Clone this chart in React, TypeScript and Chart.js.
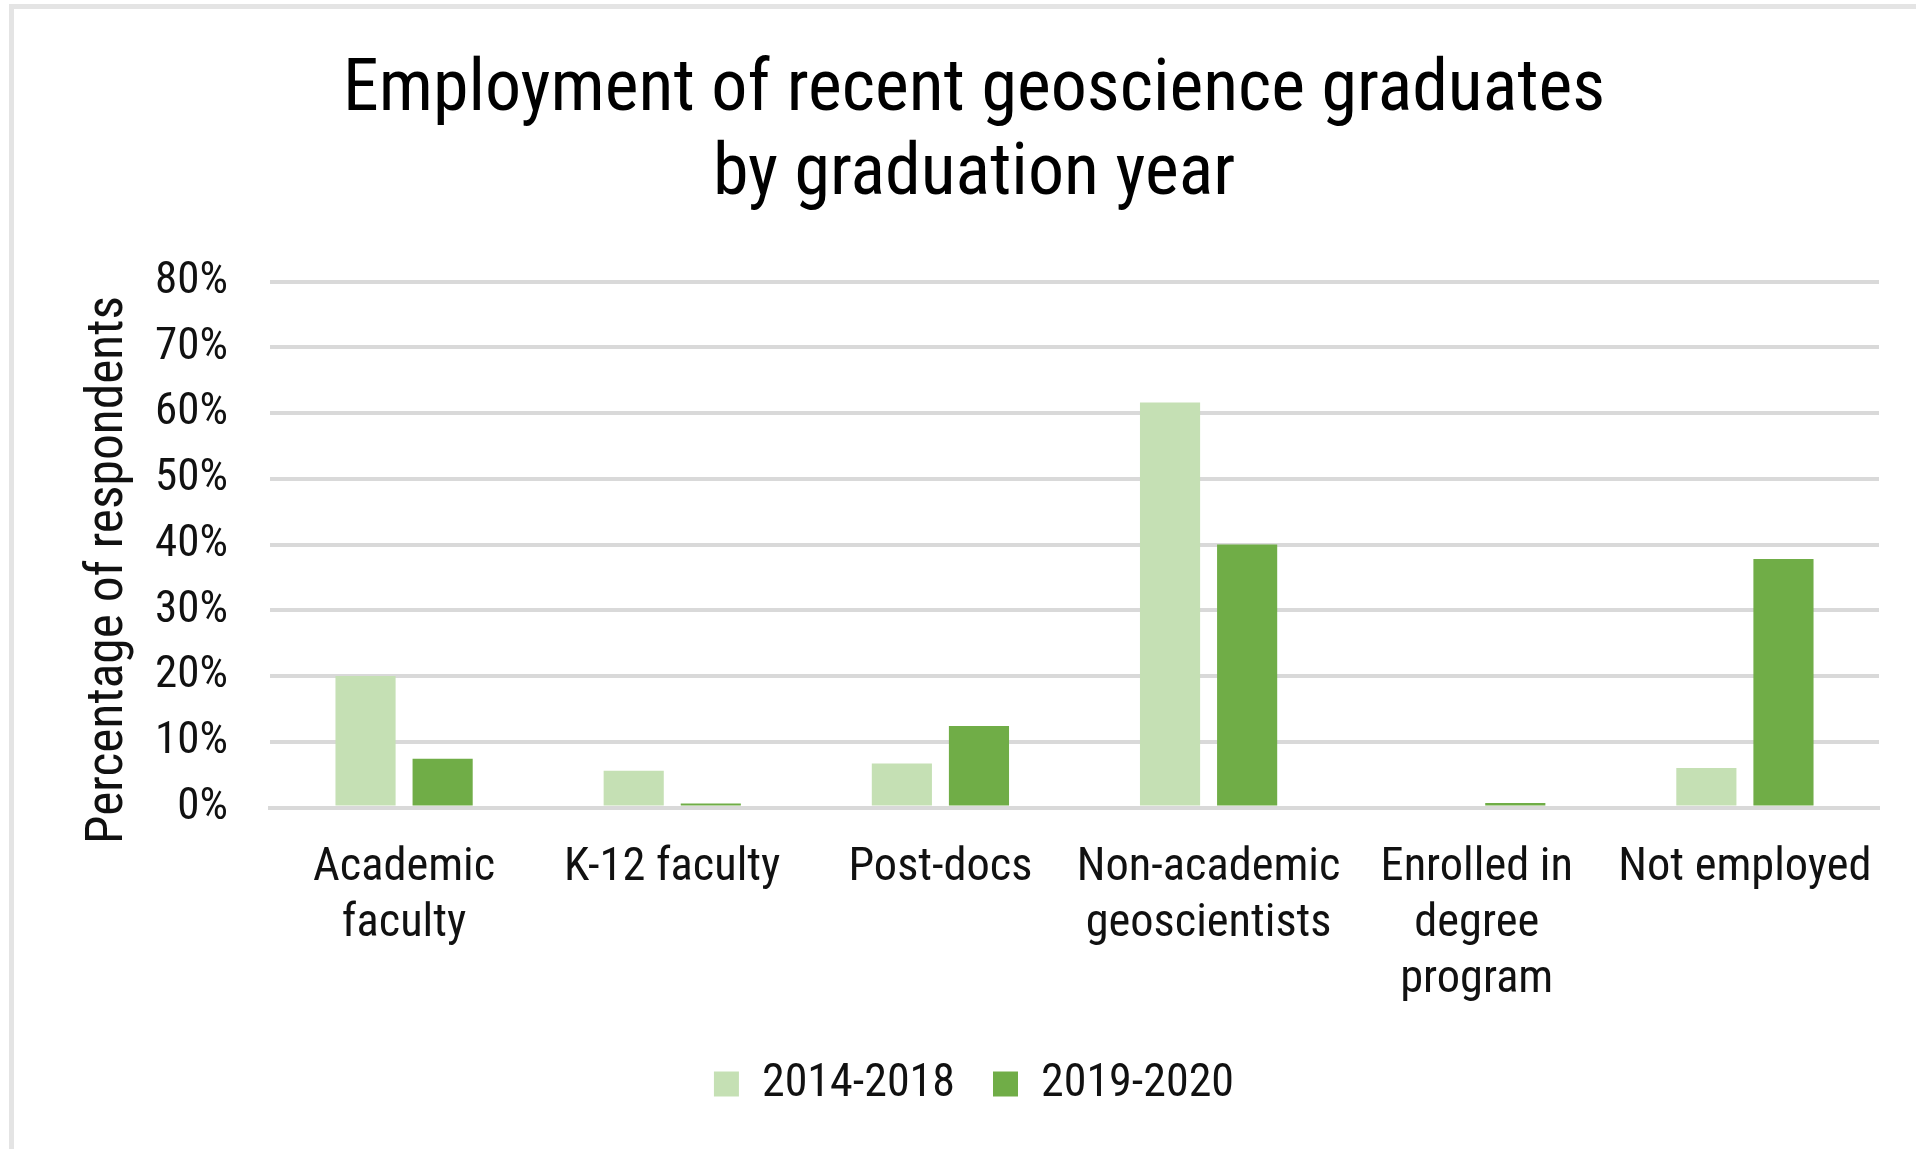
import React, { useEffect, useRef } from 'react';
import { Chart, registerables } from 'chart.js';

Chart.register(...registerables);

// ---- data ----
const CATEGORIES: string[][] = [
  ['Academic', 'faculty'],
  ['K-12 faculty'],
  ['Post-docs'],
  ['Non-academic', 'geoscientists'],
  ['Enrolled in', 'degree', 'program'],
  ['Not employed'],
];
const SERIES_NAMES = ['2014-2018', '2019-2020'];
const VALUES_2014_2018 = [20.0, 5.6, 6.7, 61.6, 0, 6.0];
const VALUES_2019_2020 = [7.4, 0.6, 12.4, 40.0, 0.7, 37.8];
const Y_MIN = 0;
const Y_MAX = 80;
const Y_STEP = 10;
const TITLE_LINES = ['Employment of recent geoscience graduates', 'by graduation year'];
const Y_TITLE = 'Percentage of respondents';

// ---- styles ----
const LIGHT = '#C5E0B4';
const DARK = '#70AD47';
const GRID = '#D9D9D9';
const TEXT = '#111111';
const FAMILY = '"Roboto Condensed", Roboto, sans-serif';
const WEIGHT = '400 condensed';

// shifts the y-axis title a little downward, as in the reference
const yTitleShift = {
  id: 'yTitleShift',
  afterLayout(chart: any) {
    const y = chart.scales.y;
    if (y) y.bottom += 51;
  },
};

export default function App() {
  const ref = useRef<HTMLCanvasElement>(null);

  useEffect(() => {
    document.body.style.margin = '0';
    document.body.style.overflow = 'hidden';
    const canvas = ref.current!;
    const chart = new Chart(canvas, {
      type: 'bar',
      data: {
        labels: CATEGORIES,
        datasets: [
          {
            label: SERIES_NAMES[0],
            data: VALUES_2014_2018,
            backgroundColor: LIGHT,
            borderWidth: 0,
            barPercentage: 0.78,
            categoryPercentage: 0.575,
          },
          {
            label: SERIES_NAMES[1],
            data: VALUES_2019_2020,
            backgroundColor: DARK,
            borderWidth: 0,
            barPercentage: 0.78,
            categoryPercentage: 0.575,
          },
        ],
      },
      plugins: [yTitleShift],
      options: {
        responsive: false,
        animation: false,
        devicePixelRatio: 1,
        layout: { padding: { left: 55, right: 55, top: 0, bottom: 32 } },
        plugins: {
          title: {
            display: true,
            text: TITLE_LINES,
            color: '#000',
            font: { family: FAMILY, size: 72, weight: WEIGHT as any, lineHeight: 84 / 72 },
            padding: { top: 41, bottom: 63.5 },
          },
          legend: {
            position: 'bottom',
            labels: {
              boxWidth: 25,
              boxHeight: 25,
              padding: 38,
              color: TEXT,
              font: { family: FAMILY, size: 46, weight: WEIGHT as any },
            },
          },
          tooltip: { enabled: false },
        },
        scales: {
          x: {
            grid: { display: false, drawTicks: false },
            border: { display: true, color: GRID, width: 4, z: 1 },
            ticks: {
              color: TEXT,
              font: { family: FAMILY, size: 46.4, weight: WEIGHT as any, lineHeight: 56 / 46.4 },
              padding: 32.5,
              maxRotation: 0,
              minRotation: 0,
              autoSkip: false,
            },
            afterFit: (s: any) => {
              s.height = 215.5;
            },
          },
          y: {
            min: Y_MIN,
            max: Y_MAX,
            ticks: {
              stepSize: Y_STEP,
              callback: (v: any) => `${v}%`,
              padding: 42,
              color: TEXT,
              font: { family: FAMILY, size: 45, weight: WEIGHT as any },
            },
            grid: { color: GRID, lineWidth: 4, drawTicks: false },
            border: { display: false },
            title: {
              display: true,
              text: Y_TITLE,
              color: TEXT,
              font: { family: FAMILY, size: 51.5, weight: WEIGHT as any, lineHeight: 57 / 51.5 },
              padding: { top: 12, bottom: 0 },
            },
            afterFit: (s: any) => {
              s.width = 201;
            },
          },
        },
      },
    });
    return () => chart.destroy();
  }, []);

  return (
    <div
      style={{
        position: 'fixed',
        left: 9,
        top: 4,
        width: 1930,
        height: 1170,
        border: '5px solid #e4e4e4',
        boxSizing: 'border-box',
        background: '#fff',
      }}
    >
      <canvas ref={ref} width={1920} height={1140} style={{ display: 'block' }} />
    </div>
  );
}
